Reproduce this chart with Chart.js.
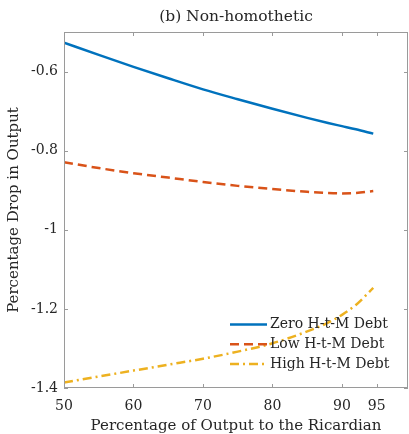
<!DOCTYPE html>
<html>
<head>
<meta charset="utf-8">
<script src="https://cdn.jsdelivr.net/npm/chart.js@4"></script>
<style>
  html, body { margin: 0; padding: 0; background: #fff; }
  #wrap { width: 409px; height: 434px; }
</style>
</head>
<body>
<div id="wrap"><canvas id="chart"></canvas></div>
<script>
const shareX = [50, 55, 60, 65, 70, 75, 80, 85, 88, 90, 92, 94.5];
const zeroDebt = [-0.527, -0.558, -0.588, -0.617, -0.645, -0.670, -0.694, -0.717, -0.730, -0.738, -0.746, -0.757];
const lowDebt = [-0.829, -0.844, -0.857, -0.868, -0.879, -0.889, -0.897, -0.904, -0.907, -0.908, -0.907, -0.902];
const highDebt = [-1.386, -1.371, -1.356, -1.341, -1.326, -1.308, -1.287, -1.257, -1.235, -1.215, -1.19, -1.147];
const seriesNames = ['Zero H-t-M Debt', 'Low H-t-M Debt', 'High H-t-M Debt'];
const xTicks = [50, 60, 70, 80, 90, 95];
const yTicks = [-1.4, -1.2, -1, -0.8, -0.6];

const serif = "'DejaVu Serif', 'Liberation Serif', serif";
const textColor = '#262626';
const axisColor = '#9a9a9a';

const toPoints = ys => shareX.map((x, i) => ({ x: x, y: ys[i] }));

// box + inward ticks, like matlab
const boxPlugin = {
  id: 'box',
  afterDraw(chart) {
    const { ctx, chartArea: a, scales } = chart;
    ctx.save();
    ctx.strokeStyle = axisColor;
    ctx.lineWidth = 1;
    ctx.strokeRect(a.left + 0.5, a.top + 0.5, a.right - a.left - 1, a.bottom - a.top - 1);
    ctx.beginPath();
    xTicks.forEach(v => {
      const px = Math.round(scales.x.getPixelForValue(v)) + 0.5;
      ctx.moveTo(px, a.bottom); ctx.lineTo(px, a.bottom - 4);
      ctx.moveTo(px, a.top); ctx.lineTo(px, a.top + 4);
    });
    yTicks.forEach(v => {
      const py = Math.round(scales.y.getPixelForValue(v)) + 0.5;
      ctx.moveTo(a.left, py); ctx.lineTo(a.left + 4, py);
      ctx.moveTo(a.right, py); ctx.lineTo(a.right - 4, py);
    });
    ctx.stroke();
    ctx.restore();
  }
};

// legend inside lower right, no frame
const innerLegend = {
  id: 'innerLegend',
  afterDatasetsDraw(chart) {
    const { ctx } = chart;
    ctx.save();
    ctx.font = '14px ' + serif;
    ctx.textBaseline = 'middle';
    chart.data.datasets.forEach((ds, i) => {
      const y = 324.5 + i * 19.8;
      ctx.strokeStyle = ds.borderColor;
      ctx.lineWidth = ds.borderWidth;
      ctx.setLineDash(ds.borderDash || []);
      ctx.beginPath();
      ctx.moveTo(230, y); ctx.lineTo(267, y);
      ctx.stroke();
      ctx.setLineDash([]);
      ctx.fillStyle = textColor;
      ctx.fillText(ds.label, 270, y);
    });
    ctx.restore();
  }
};

new Chart(document.getElementById('chart'), {
  type: 'line',
  data: {
    datasets: [
      { label: seriesNames[0], data: toPoints(zeroDebt), borderColor: '#0072BD', borderWidth: 2.5 },
      { label: seriesNames[1], data: toPoints(lowDebt), borderColor: '#D95319', borderWidth: 2.5, borderDash: [9, 5] },
      { label: seriesNames[2], data: toPoints(highDebt), borderColor: '#EDB120', borderWidth: 2.5, borderDash: [9, 4, 2, 4] }
    ]
  },
  options: {
    responsive: true,
    maintainAspectRatio: false,
    animation: false,
    layout: { padding: { top: 0, right: 1, left: 0, bottom: 0 } },
    elements: { point: { radius: 0 }, line: { cubicInterpolationMode: 'monotone' } },
    plugins: {
      legend: { display: false },
      tooltip: { enabled: false },
      title: {
        display: true,
        fullSize: false,
        text: '(b) Non-homothetic',
        color: textColor,
        font: { family: serif, size: 15.5, weight: 'normal', lineHeight: 1.2 },
        padding: { top: 8, bottom: 5.4 }
      }
    },
    scales: {
      x: {
        type: 'linear',
        min: 50,
        max: 99.5,
        afterBuildTicks: s => { s.ticks = xTicks.map(v => ({ value: v })); },
        afterFit: s => { s.height = 46; },
        grid: { display: false, drawTicks: false },
        border: { display: false },
        ticks: { color: textColor, font: { family: serif, size: 14 }, padding: 10, maxRotation: 0, autoSkip: false },
        title: { display: true, text: 'Percentage of Output to the Ricardian', color: textColor, font: { family: serif, size: 15, lineHeight: 1 }, padding: { top: 0, bottom: 0 } }
      },
      y: {
        min: -1.4,
        max: -0.5,
        afterBuildTicks: s => { s.ticks = yTicks.map(v => ({ value: v })); },
        afterFit: s => { s.width = 64; },
        grid: { display: false, drawTicks: false },
        border: { display: false },
        ticks: { color: textColor, font: { family: serif, size: 14 }, padding: 6, callback: v => String(v) },
        title: { display: true, text: 'Percentage Drop in Output', color: textColor, font: { family: serif, size: 15, lineHeight: 1.2 }, padding: { top: 5, bottom: 0 } }
      }
    }
  },
  plugins: [boxPlugin, innerLegend]
});
</script>
</body>
</html>
